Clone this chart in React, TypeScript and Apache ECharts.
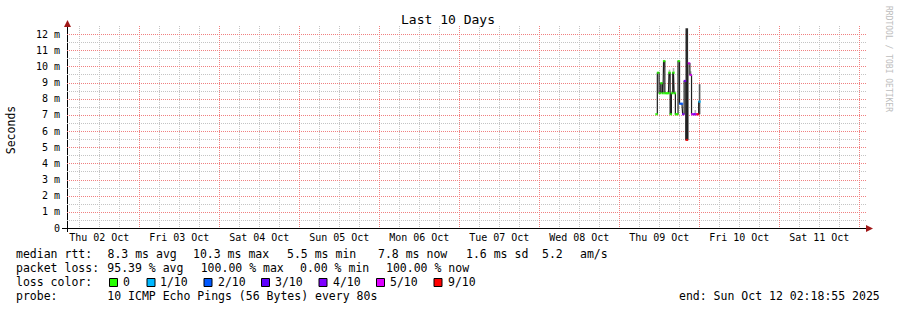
import React, { useEffect, useRef } from "react";
import * as echarts from "echarts";

// ---- axis / tick data ----
const dayLabels = [
  "Thu 02 Oct", "Fri 03 Oct", "Sat 04 Oct", "Sun 05 Oct", "Mon 06 Oct",
  "Tue 07 Oct", "Wed 08 Oct", "Thu 09 Oct", "Fri 10 Oct", "Sat 11 Oct",
];
// hours since Thu 02 Oct 00:00
const labelHours = [12, 36, 60, 84, 108, 132, 156, 180, 204, 228];
const dayGridHours = [24, 48, 72, 96, 120, 144, 168, 192, 216, 240];
const sixHourGridHours = [
  6, 12, 18, 30, 36, 42, 54, 60, 66, 78, 84, 90, 102, 108, 114, 126, 132, 138,
  150, 156, 162, 174, 180, 186, 198, 204, 210, 222, 228, 234,
];
const yMajorTicks = [1, 2, 3, 4, 5, 6, 7, 8, 9, 10, 11, 12];
const yMinorTicks = [0.5, 1.5, 2.5, 3.5, 4.5, 5.5, 6.5, 7.5, 8.5, 9.5, 10.5, 11.5];
const startHour = 2 + 18 / 60 + 55 / 3600; // Thu 02 Oct 02:18:55
const spanHours = 240;
const yMax = 12.5;
const oct9Offset = 168;

// ---- measurement data (Thu 09 Oct) ----
const sampleHoursOct9 = [
  11.16, 11.67, 12.21, 12.66, 13.11, 13.47, 13.86, 14.31, 14.76, 15.06,
  15.45, 15.81, 16.26, 16.65, 17.01, 17.4, 17.85, 18.3, 18.81, 19.2,
  19.71, 20.25, 20.91, 21.45, 21.9, 22.35, 22.8, 23.25, 23.55, 24.09,
];
const medianMs = [
  7.04, 9.61, 8.34, 8.96, 8.34, 10.33, 8.34, 8.34, 8.34, 9.61,
  7.04, 8.34, 9.61, 8.34, 7.04, 7.04, 10.33, 7.69, 7.69, 7.04,
  9.1, 5.45, 10.19, 9.47, 7.04, 7.04, 7.04, 7.04, 7.04, 7.82,
];
const lossCount = [
  0, 0, 0, 0, 0, 0, 0, 0, 0, 0,
  0, 0, 0, 0, 0, 0, 0, 2, 2, 4,
  4, 9, 5, 5, 5, 4, 4, 5, 9, 1,
];
const smokeLowMs = [
  7.04, 9.61, 8.34, 8.96, 8.34, 10.33, 8.34, 8.34, 8.34, 9.61,
  7.04, 8.34, 9.61, 8.34, 7.04, 7.04, 10.33, 7.69, 7.69, 7.04,
  9.1, 5.45, 10.19, 9.47, 7.04, 7.04, 7.04, 7.04, 7.04, 7.04,
];
const smokeHighMs = [
  7.04, 9.61, 8.34, 8.96, 8.34, 10.33, 8.34, 8.34, 8.34, 9.8,
  7.04, 8.34, 9.9, 8.34, 7.04, 7.04, 10.33, 7.69, 7.69, 7.04,
  9.1, 12.36, 10.19, 9.7, 7.04, 7.04, 7.3, 7.04, 7.04, 8.9,
];

// ---- legend data ----
const lossLevels = [0, 1, 2, 3, 4, 5, 9];
const lossLabels = ["0", "1/10", "2/10", "3/10", "4/10", "5/10", "9/10"];
const lossColors = ["#26ff00", "#00b8ff", "#0059ff", "#5e00ff", "#7e00ff", "#dd00ff", "#ff0000"];

const rttLine = ["median rtt:", "8.3 ms avg", "10.3 ms max", "5.5 ms min", "7.8 ms now", "1.6 ms sd", "5.2", "am/s"];
const lossLine = ["packet loss:", "95.39 % avg", "100.00 % max", "0.00 % min", "100.00 % now"];
const probeLine = ["probe:", "10 ICMP Echo Pings (56 Bytes) every 80s", "end: Sun Oct 12 02:18:55 2025"];
const titleText = "Last 10 Days";
const yAxisTitle = "Seconds";
const watermark = "RRDTOOL / TOBI OETIKER";

// layout (style only)
const rttX = [16, 107.5, 193, 287, 378, 466, 542, 580];
const lossX = [16, 107.3, 200.7, 300, 386];
const probeX = [16, 107.3, 679];
const swatchX = [109, 146.5, 203.5, 261, 318.5, 376, 433.5];
const swatchTextX = [123, 160, 218, 275, 333, 390, 448];

const MONO = '"DejaVu Sans Mono", monospace';
const MAJOR_COLOR = "#f08080";
const MINOR_COLOR = "#c4c4c4";

function colorForLoss(l: number): string {
  const idx = lossLevels.indexOf(l);
  return idx >= 0 ? lossColors[idx] : "#888";
}

function txt(x: number, y: number, text: string, size = 11.5, extra: any = {}) {
  return {
    type: "text",
    x,
    y,
    silent: true,
    ...extra,
    style: {
      text,
      font: `${size}px ${MONO}`,
      fill: extra.fill || "#000",
      align: extra.align || "left",
      verticalAlign: "middle",
      textAlign: extra.align || "left",
      textVerticalAlign: "middle",
    },
  };
}

export default function App() {
  const ref = useRef<HTMLDivElement>(null);

  useEffect(() => {
    if (!ref.current) return;
    const chart = echarts.init(ref.current, undefined, { renderer: "svg" });

    // grid lines: [orientation (0 = horizontal, 1 = vertical), value, major]
    const gridData: number[][] = [
      ...yMinorTicks.map((v) => [0, v, 0]),
      ...sixHourGridHours.map((v) => [1, v, 0]),
      ...yMajorTicks.map((v) => [0, v, 1]),
      ...dayGridHours.map((v) => [1, v, 1]),
    ];

    const xs = sampleHoursOct9.map((h) => oct9Offset + h);
    const lineData = xs.map((x, i) => [x, medianMs[i]]);
    const dotData = xs.map((x, i) => ({
      value: [x, medianMs[i]],
      itemStyle: { color: colorForLoss(lossCount[i]) },
    }));
    const smokeData = xs
      .map((x, i) => [x, smokeLowMs[i], smokeHighMs[i]])
      .filter((d) => d[2] > d[1]);

    const graphic: any[] = [];
    graphic.push(txt(448, 19, titleText, 13, { align: "center" }));
    graphic.push(txt(11, 130, yAxisTitle, 11.5, { align: "center", rotation: Math.PI / 2 }));
    graphic.push(txt(888, 59, watermark, 8, { align: "center", rotation: -Math.PI / 2, fill: "#bdbdbd" }));
    graphic.push({ type: "line", silent: true, shape: { x1: 62, y1: 228.5, x2: 867, y2: 228.5 }, style: { stroke: "#000", lineWidth: 1 } });
    graphic.push({ type: "line", silent: true, shape: { x1: 67.5, y1: 232, x2: 67.5, y2: 25 }, style: { stroke: "#000", lineWidth: 1 } });
    graphic.push({ type: "polygon", silent: true, shape: { points: [[866, 225], [873, 228.5], [866, 232]] }, style: { fill: "#a01818" } });
    graphic.push({ type: "polygon", silent: true, shape: { points: [[64, 27], [67.5, 20], [71, 27]] }, style: { fill: "#a01818" } });
    rttLine.forEach((t, i) => graphic.push(txt(rttX[i], 254, t)));
    lossLine.forEach((t, i) => graphic.push(txt(lossX[i], 268, t)));
    graphic.push(txt(16, 282, "loss color:"));
    lossLabels.forEach((t, i) => {
      graphic.push({
        type: "rect",
        silent: true,
        shape: { x: swatchX[i] + 0.5, y: 278.5, width: 8, height: 8 },
        style: { fill: lossColors[i], stroke: "#000", lineWidth: 1 },
      });
      graphic.push(txt(swatchTextX[i], 282, t));
    });
    probeLine.forEach((t, i) => graphic.push(txt(probeX[i], 296, t)));

    chart.setOption({
      animation: false,
      backgroundColor: "#fff",
      grid: { left: 67, right: 30, top: 26, bottom: 82, containLabel: false },
      xAxis: {
        type: "value",
        min: startHour,
        max: startHour + spanHours,
        axisLine: { show: false },
        axisTick: { show: false },
        splitLine: { show: false },
        axisLabel: {
          customValues: labelHours,
          formatter: (v: number) => {
            const i = labelHours.findIndex((h) => Math.abs(h - v) < 0.01);
            return i >= 0 ? dayLabels[i] : "";
          },
          fontFamily: MONO,
          fontSize: 10,
          color: "#000",
          margin: 4,
        },
      },
      yAxis: {
        type: "value",
        min: 0,
        max: yMax,
        interval: 1,
        axisLine: { show: false },
        axisTick: { show: false },
        splitLine: { show: false },
        axisLabel: {
          showMaxLabel: false,
          formatter: (v: number) => {
            if (Math.abs(v - Math.round(v)) > 0.001 || v > 12) return "";
            return v === 0 ? "0" : `${v} m`;
          },
          fontFamily: MONO,
          fontSize: 10,
          color: "#000",
          margin: 7,
        },
      },
      series: [
        {
          type: "custom",
          z: 1,
          silent: true,
          clip: false,
          data: gridData,
          renderItem: (params: any, api: any) => {
            const cs = params.coordSys;
            const dir = api.value(0);
            const v = api.value(1);
            const major = api.value(2) === 1;
            let shape;
            if (dir === 0) {
              const y = Math.round(api.coord([startHour, v])[1]) + 0.5;
              shape = { x1: cs.x, y1: y, x2: cs.x + cs.width, y2: y };
            } else {
              const x = Math.round(api.coord([v, 0])[0]) + 0.5;
              shape = { x1: x, y1: cs.y, x2: x, y2: cs.y + cs.height };
            }
            return {
              type: "line",
              shape,
              style: {
                stroke: major ? MAJOR_COLOR : MINOR_COLOR,
                lineWidth: 1,
                lineDash: [1, 1],
              },
            };
          },
        },
        {
          type: "custom",
          z: 2,
          silent: true,
          data: smokeData,
          renderItem: (params: any, api: any) => {
            const x = api.value(0);
            const lo = api.value(1);
            const hi = api.value(2);
            const p1 = api.coord([x, hi]);
            const p2 = api.coord([x, lo]);
            const big = hi - lo > 2;
            const w = big ? 2.6 : 1.6;
            return {
              type: "rect",
              shape: { x: p1[0] - w / 2, y: p1[1], width: w, height: p2[1] - p1[1] },
              style: { fill: big ? "#2a2a2a" : lo > 7.5 || hi < 7.5 ? "#b4b4b4" : "#555" },
            };
          },
        },
        {
          type: "line",
          z: 3,
          silent: true,
          step: "middle",
          showSymbol: false,
          data: lineData,
          lineStyle: { color: "#1e1e1e", width: 1.2 },
        },
        {
          type: "scatter",
          z: 4,
          silent: true,
          symbol: "rect",
          symbolSize: [2.6, 2.2],
          data: dotData,
        },
      ],
      graphic,
    });

    return () => chart.dispose();
  }, []);

  return (
    <div
      ref={ref}
      style={{ position: "fixed", left: 0, top: 0, width: 897, height: 310, background: "#fff" }}
    />
  );
}
